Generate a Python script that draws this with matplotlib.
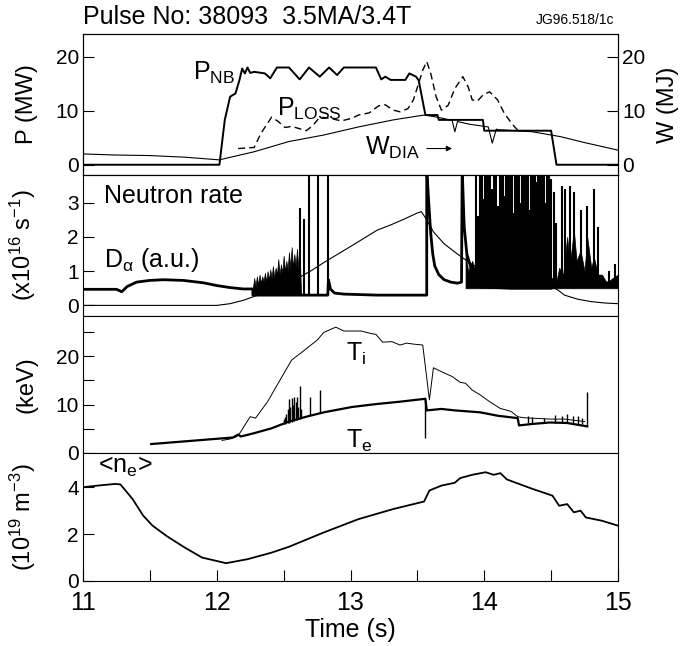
import matplotlib
matplotlib.use('Agg')
import matplotlib.pyplot as plt
import numpy as np

plt.rcParams['font.family'] = ['Liberation Sans', 'DejaVu Sans']
plt.rcParams['mathtext.fontset'] = 'custom'
plt.rcParams['mathtext.rm'] = 'Liberation Sans'
plt.rcParams['mathtext.it'] = 'Liberation Sans'
plt.rcParams['mathtext.sf'] = 'Liberation Sans'

# ---- panel 1: powers and stored energy ----
pnb_t = [11.0, 12.02, 12.06, 12.10, 12.14, 12.17, 12.19, 12.21, 12.23, 12.25, 12.28, 12.36, 12.40,
         12.45, 12.54, 12.62, 12.69, 12.77, 12.84, 12.90, 12.95, 13.19, 13.23, 13.26, 13.30, 13.41,
         13.44, 13.49, 13.51, 13.56, 13.65, 13.66, 13.99, 14.00, 14.50, 14.54, 15.0]
pnb_v = [0.0, 0.0, 8.3, 12.6, 13.2, 15.7, 17.8, 16.9, 18.0, 17.0, 17.2, 16.9, 16.0,
         18.0, 18.0, 15.8, 18.0, 16.3, 18.0, 16.6, 18.0, 18.0, 15.8, 16.3, 15.7, 15.7,
         16.9, 16.3, 15.6, 9.2, 9.2, 8.3, 8.3, 6.3, 6.3, 0.0, 0.0]

ploss_t = [12.16, 12.28, 12.33, 12.41, 12.46, 12.51, 12.56, 12.67, 12.72, 12.77, 12.85, 12.93,
           13.01, 13.06, 13.14, 13.21, 13.26, 13.32, 13.37, 13.43, 13.47, 13.51, 13.54, 13.57,
           13.60, 13.64, 13.68, 13.73, 13.78, 13.84, 13.88, 13.91, 13.95, 13.99, 14.04, 14.10,
           14.15, 14.21, 14.25]
ploss_v = [3.0, 3.2, 5.8, 8.8, 8.0, 6.9, 7.1, 6.3, 7.3, 8.8, 8.6, 8.1,
           8.6, 9.2, 9.6, 10.9, 11.1, 10.1, 9.8, 10.4, 12.0, 15.1, 17.5, 19.1,
           16.9, 12.6, 10.1, 11.0, 14.1, 16.3, 14.4, 12.0, 11.8, 12.9, 13.5, 12.0,
           9.5, 7.5, 6.4]

wdia_t = [11.0, 11.24, 11.50, 11.76, 12.02, 12.07, 12.28, 12.54, 12.80, 13.06, 13.32, 13.55,
          13.65, 13.76, 13.78, 13.80, 13.89, 14.03, 14.06, 14.09, 14.10, 14.36, 14.57, 14.75, 15.0]
wdia_v = [2.0, 1.8, 1.7, 1.4, 0.9, 1.2, 2.4, 4.3, 5.5, 7.0, 8.3, 9.2,
          8.8, 8.2, 6.1, 8.0, 7.5, 7.0, 4.0, 6.6, 6.5, 6.1, 5.2, 4.1, 2.7]

# ---- panel 2: neutron rate and D-alpha ----
neut_t = [11.0, 12.0, 12.1, 12.2, 12.3, 12.4, 12.5, 12.6, 12.7, 12.8, 13.0, 13.2, 13.3, 13.4,
          13.5, 13.53, 13.57, 13.62, 13.7, 13.8, 13.9, 14.0, 14.1, 14.2, 14.3, 14.4, 14.5,
          14.55, 14.6, 14.7, 14.8, 14.9, 15.0]
neut_v = [0.0, 0.0, 0.05, 0.15, 0.29, 0.45, 0.62, 0.78, 1.0, 1.25, 1.72, 2.2, 2.35, 2.52,
          2.70, 2.74, 2.5, 2.15, 1.8, 1.5, 1.22, 1.02, 0.85, 0.72, 0.64, 0.6, 0.55,
          0.45, 0.3, 0.18, 0.11, 0.07, 0.05]

da_t = [11.0, 11.25, 11.29, 11.33, 11.40, 11.50, 11.60, 11.75, 11.90, 12.00, 12.10, 12.20, 12.27,
        12.27, 12.63, 12.83, 12.835, 12.85, 12.88, 12.95, 13.2, 13.57, 13.57, 13.585, 13.60,
        13.615, 13.63, 13.66, 13.70, 13.75, 13.80, 13.83, 13.835, 13.85, 13.87, 13.90, 13.93,
        14.2, 14.5, 14.56, 14.8, 15.0]
da_v = [0.47, 0.47, 0.40, 0.55, 0.68, 0.73, 0.75, 0.73, 0.66, 0.58, 0.52, 0.48, 0.48,
        0.30, 0.30, 0.30, 0.75, 0.48, 0.36, 0.33, 0.30, 0.30, 4.0, 3.0, 2.1,
        1.5, 1.15, 0.9, 0.75, 0.68, 0.65, 0.68, 4.0, 2.3, 1.5, 1.1, 0.55,
        0.5, 0.5, 0.6, 0.55, 0.55]

# ELM hash before the peak (top envelope above a 0.3 floor)
hash1_t = [12.27, 12.28, 12.29, 12.30, 12.31, 12.32, 12.33, 12.34, 12.35, 12.36, 12.37, 12.38,
           12.39, 12.40, 12.41, 12.42, 12.43, 12.44, 12.45, 12.46, 12.47, 12.48, 12.49, 12.50,
           12.51, 12.52, 12.53, 12.54, 12.55, 12.56, 12.57, 12.58, 12.59, 12.60, 12.61, 12.62, 12.63]
hash1_v = [0.5, 0.8, 0.55, 0.85, 0.6, 0.9, 0.65, 0.85, 0.7, 0.95, 0.7, 1.0,
           0.75, 1.05, 0.8, 1.15, 0.8, 1.1, 0.9, 1.35, 0.9, 1.2, 0.95, 1.45,
           1.0, 1.3, 1.05, 1.55, 1.1, 1.7, 1.1, 1.5, 1.15, 1.65, 1.1, 1.55, 0.4]
hash1_lo = 0.30

# ELM hash after the collapse (top envelope above a 0.5 floor)
hash2_t = [13.86, 13.88, 13.91, 13.94, 13.97, 14.00, 14.02, 14.04, 14.06, 14.08, 14.10, 14.12,
           14.15, 14.18, 14.20, 14.23, 14.25, 14.28, 14.30, 14.33, 14.36, 14.38, 14.41, 14.44,
           14.46, 14.49, 14.51, 14.54, 14.56, 14.59, 14.62, 14.64, 14.67, 14.69, 14.72, 14.75,
           14.77, 14.80, 14.82, 14.85, 14.88, 14.91, 14.93, 14.96, 15.0]
hash2_v = [1.5, 1.0, 1.3, 0.9, 1.6, 1.1, 1.9, 1.3, 2.1, 1.2, 1.5, 0.9,
           1.2, 0.8, 1.1, 0.8, 1.0, 0.8, 1.2, 0.9, 1.3, 0.8, 1.0, 0.8,
           1.2, 0.8, 0.8, 0.7, 1.1, 0.9, 2.0, 1.2, 2.2, 1.3, 1.6, 1.0,
           2.0, 1.1, 1.4, 0.9, 0.9, 0.7, 0.7, 0.8, 0.9]
hash2_lo = 0.5

# individual D-alpha spikes: time, floor, peak
elm_t = [12.62, 12.655, 12.69, 12.76, 12.83,
         13.94, 13.955, 13.97, 13.98, 13.99, 14.005, 14.02, 14.03, 14.04, 14.055, 14.07, 14.08,
         14.09, 14.10, 14.115, 14.13, 14.14, 14.15, 14.165, 14.18, 14.19, 14.21, 14.22, 14.23,
         14.245, 14.26, 14.27, 14.285, 14.30, 14.31, 14.325, 14.34, 14.35, 14.365, 14.38, 14.39,
         14.405, 14.42, 14.43, 14.445, 14.46, 14.47, 14.485, 14.50, 14.52, 14.54, 14.58, 14.60,
         14.64, 14.67, 14.72, 14.77, 14.82, 14.85, 14.93, 14.98]
elm_lo = [0.30, 0.30, 0.30, 0.30, 0.30,
          0.5, 0.5, 0.5, 0.5, 0.5, 0.5, 0.5, 0.5, 0.5, 0.5, 0.5, 0.5,
          0.5, 0.5, 0.5, 0.5, 0.5, 0.5, 0.5, 0.5, 0.5, 0.5, 0.5, 0.5,
          0.5, 0.5, 0.5, 0.5, 0.5, 0.5, 0.5, 0.5, 0.5, 0.5, 0.5, 0.5,
          0.5, 0.5, 0.5, 0.5, 0.5, 0.5, 0.5, 0.5, 0.55, 0.55, 0.55, 0.55,
          0.55, 0.55, 0.55, 0.55, 0.55, 0.55, 0.55, 0.55]
elm_h = [2.84, 2.53, 4.0, 4.0, 4.0,
         4.0, 2.6, 4.0, 4.0, 3.1, 4.0, 4.0, 4.0, 4.0, 3.4, 4.0, 4.0,
         4.0, 2.9, 4.0, 4.0, 4.0, 3.2, 4.0, 4.0, 4.0, 4.0, 2.7, 4.0,
         4.0, 4.0, 3.0, 4.0, 4.0, 4.0, 4.0, 2.8, 4.0, 4.0, 4.0, 3.6,
         4.0, 4.0, 4.0, 4.0, 3.0, 4.0, 4.0, 3.7, 3.3, 2.4, 3.5, 3.4,
         3.5, 3.3, 2.8, 2.9, 3.4, 2.3, 1.0, 1.2]

# ---- panel 3: temperatures ----
ti_t = [12.04, 12.10, 12.15, 12.17, 12.25, 12.29, 12.38, 12.48, 12.56, 12.64, 12.75, 12.80,
        12.89, 12.95, 13.03, 13.08, 13.15, 13.19, 13.24, 13.31, 13.37, 13.42, 13.47, 13.54,
        13.59, 13.62, 13.68, 13.76, 13.82, 13.86, 13.91, 13.97, 14.04, 14.12, 14.20, 14.25,
        14.29, 14.35, 14.5, 14.6, 14.75]
ti_v = [2.6, 2.9, 3.4, 4.0, 7.5, 7.2, 10.6, 15.4, 19.2, 20.9, 23.3, 24.9,
        26.0, 25.2, 25.2, 25.2, 24.7, 24.5, 22.9, 23.0, 22.3, 22.7, 22.5, 22.3,
        11.0, 17.6, 16.8, 15.8, 14.6, 14.4, 13.0, 12.0, 10.6, 9.2, 8.6, 7.5,
        7.3, 7.2, 7.0, 7.0, 6.5]

te_t = [11.51, 12.12, 12.16, 12.18, 12.28, 12.41, 12.54, 12.67, 12.80, 13.01, 13.19, 13.37,
        13.56, 13.57, 13.68, 13.78, 13.97, 14.10, 14.25, 14.26, 14.36, 14.49, 14.62, 14.77]
te_v = [1.85, 3.2, 3.8, 3.4, 4.1, 5.1, 6.5, 7.5, 8.4, 9.5, 10.1, 10.6,
        11.2, 8.8, 9.1, 8.8, 8.4, 7.7, 7.2, 5.7, 6.0, 6.3, 6.2, 5.5]

# Te spikes: time, low, high
tes_t = [12.50, 12.51, 12.52, 12.53, 12.54, 12.55, 12.56, 12.57, 12.58, 12.59, 12.60, 12.61,
         12.62, 12.63, 12.70, 12.77, 13.56, 14.33, 14.36, 14.45, 14.53, 14.58, 14.62, 14.66,
         14.70, 14.73, 14.77]
tes_lo = [5.9, 6.0, 6.1, 6.2, 6.3, 6.4, 6.5, 6.6, 6.7, 6.8, 6.9, 7.0,
          7.1, 7.2, 7.8, 8.2, 3.1, 6.1, 6.1, 6.2, 6.3, 6.3, 6.2, 6.1,
          6.0, 5.9, 5.5]
tes_hi = [7.0, 7.5, 8.0, 9.0, 11.2, 9.5, 11.3, 10.0, 11.5, 10.5, 11.6, 9.5,
          13.8, 9.0, 11.6, 13.0, 11.2, 7.7, 7.5, 7.2, 7.8, 7.7, 8.0, 7.6,
          7.7, 7.2, 12.7]

# ---- panel 4: line-average density ----
ne_t = [11.0, 11.11, 11.24, 11.28, 11.37, 11.45, 11.52, 11.63, 11.76, 11.89, 12.07, 12.23,
        12.41, 12.54, 12.80, 13.06, 13.32, 13.55, 13.59, 13.68, 13.78, 13.82, 13.91, 14.01,
        14.07, 14.12, 14.17, 14.36, 14.51, 14.56, 14.62, 14.67, 14.72, 14.76, 14.88, 15.0]
ne_v = [4.0, 4.07, 4.14, 4.12, 3.5, 2.79, 2.36, 1.9, 1.43, 1.0, 0.76, 0.93,
        1.21, 1.46, 2.07, 2.64, 3.07, 3.39, 3.86, 4.07, 4.19, 4.39, 4.53, 4.64,
        4.53, 4.6, 4.33, 3.93, 3.64, 3.21, 3.28, 2.93, 3.0, 2.71, 2.57, 2.36]

fs = 18     # labels inside the plot, title, time axis
yfs = 17    # y-axis titles
tfs = 15    # y tick labels
W, H = 685, 646
fig = plt.figure(figsize=(W / 100, H / 100), dpi=100)

left = 83 / W
width = 535 / W
def panel(top, bot):
    return fig.add_axes([left, 1 - bot / H, width, (bot - top) / H])

ax1 = panel(34, 175)
ax2 = panel(175, 316)
ax3 = panel(316, 453)
ax4 = panel(453, 581)
axes = [ax1, ax2, ax3, ax4]

for ax in axes:
    ax.set_xlim(11, 15)
    for s in ax.spines.values():
        s.set_linewidth(0.8)
    ax.tick_params(direction='in', length=8, width=0.8, labelsize=tfs, pad=3)
    ax.tick_params(axis='x', bottom=False, labelbottom=False)

# panel 1
ax1.plot(pnb_t, pnb_v, color='black', lw=1.4)
ax1.plot(ploss_t, ploss_v, color='black', lw=1.0, ls=(0, (5, 3)))
ax1.plot(wdia_t, wdia_v, color='black', lw=0.8)
ax1.set_ylim(-1.9, 24.2)
ax1.set_yticks([0, 10, 20])
ax1.set_ylabel('P (MW)', fontsize=yfs)
ax1r = ax1.twinx()
ax1r.set_ylim(ax1.get_ylim())
ax1r.set_yticks([0, 10, 20])
ax1r.tick_params(direction='in', length=8, width=0.8, labelsize=tfs, pad=3)
ax1r.set_ylabel('W (MJ)', fontsize=yfs)
ax1r.yaxis.set_label_coords(1.072, 0.5)
ax1.text(11.82, 17.0, r'P$_{\rm NB}$', fontsize=fs, va='center')
ax1.text(12.45, 10.4, r'P$_{\rm LOSS}$', fontsize=fs, va='center')
ax1.text(13.11, 3.2, r'W$_{\rm DIA}$', fontsize=fs, va='center')
ax1.annotate('', xy=(13.78, 3.0), xytext=(13.55, 3.0),
             arrowprops=dict(arrowstyle='-|>', color='black', lw=0.8, mutation_scale=8))

# panel 2
ax2.fill_between(hash1_t, hash1_lo, hash1_v, color='black', lw=0.5)
ax2.fill_between(hash2_t, hash2_lo, hash2_v, color='black', lw=0.5)
ax2.vlines(elm_t, elm_lo, elm_h, color='black', lw=1.5)
ax2.plot(da_t, da_v, color='black', lw=2.0)
ax2.plot(neut_t, neut_v, color='black', lw=0.8)
ax2.set_ylim(-0.31, 3.81)
ax2.set_yticks([0, 1, 2, 3])
ax2.set_ylabel(r'(x10$^{16}$ s$^{-1}$)', fontsize=yfs)
ax2.text(11.16, 3.2, 'Neutron rate', fontsize=fs, va='center')
ax2.text(11.16, 1.33, r'D$_{\rm α}$ (a.u.)', fontsize=fs, va='center')

# panel 3
ax3.plot(ti_t, ti_v, color='black', lw=0.7)
ax3.vlines(tes_t, tes_lo, tes_hi, color='black', lw=1.0)
ax3.plot(te_t, te_v, color='black', lw=1.6)
ax3.set_ylim(0, 28.3)
ax3.set_yticks([0, 5, 10, 15, 20, 25])
ax3.set_yticklabels(['0', '', '10', '', '20', ''])
ax3.set_ylabel('(keV)', fontsize=yfs)
ax3.text(12.97, 20.5, r'T$_{\rm i}$', fontsize=fs, va='center')
ax3.text(12.97, 2.4, r'T$_{\rm e}$', fontsize=fs, va='center')

# panel 4
ax4.plot(ne_t, ne_v, color='black', lw=1.3)
ax4.set_ylim(0, 5.46)
ax4.set_yticks([0, 2, 4])
ax4.set_ylabel(r'(10$^{19}$ m$^{-3}$)', fontsize=yfs)
ax4.text(11.11, 4.85, r'<n$_{\rm e}$>', fontsize=fs, va='center')
ax4.tick_params(axis='x', bottom=True, labelbottom=True, pad=7)
ax4.set_xticks(np.arange(11, 15.01, 0.5))
ax4.set_xticklabels(['11', '', '12', '', '13', '', '14', '', '15'], fontsize=fs)
ax4.set_xlabel('Time (s)', fontsize=fs, labelpad=2)

for ax in axes:
    ax.yaxis.set_label_coords(-0.085, 0.5)

fig.text(83 / W, 1 - 17 / H, 'Pulse No: 38093  3.5MA/3.4T', fontsize=fs, ha='left', va='center')
fig.text(614 / W, 1 - 20 / H, 'JG96.518/1c', fontsize=10, ha='right', va='center')

fig.savefig('out.png', dpi=100)
